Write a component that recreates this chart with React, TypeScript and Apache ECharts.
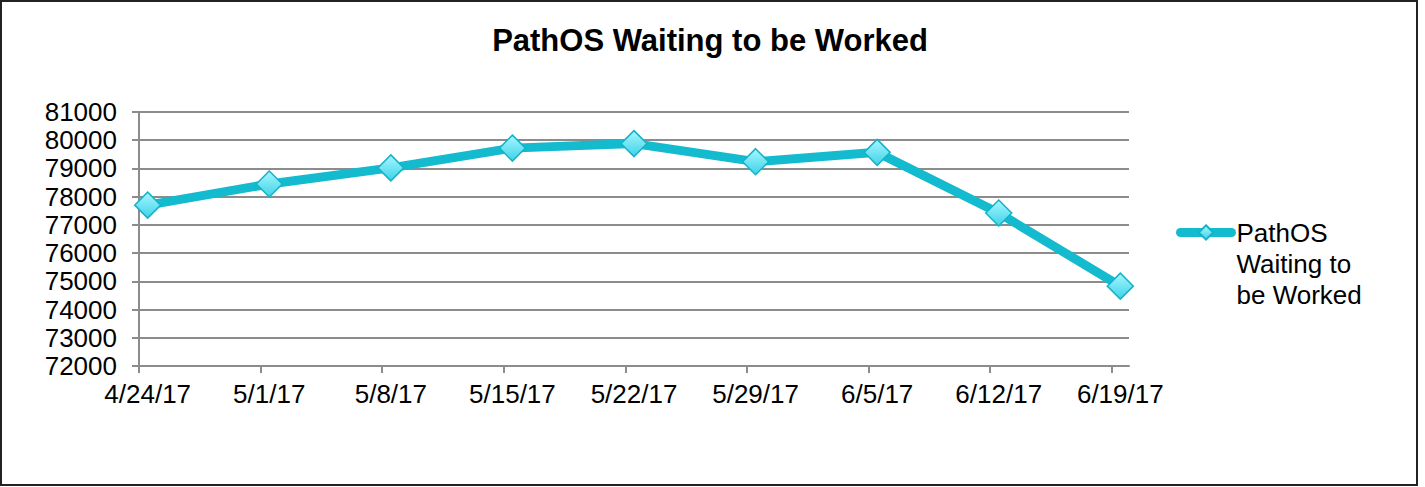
import React, { useEffect, useRef } from "react";
import * as echarts from "echarts";

const categories = ["4/24/17", "5/1/17", "5/8/17", "5/15/17", "5/22/17", "5/29/17", "6/5/17", "6/12/17", "6/19/17"];
// day offsets of each date from 4/24/17 (date axis)
const dayOffsets = [0, 7, 14, 21, 28, 35, 42, 49, 56];
const values = [77700, 78450, 79020, 79720, 79880, 79240, 79570, 77420, 74830];
const seriesName = "PathOS Waiting to be Worked";
const legendLines = ["PathOS", "Waiting to", "be Worked"];

const FONT = "'Liberation Sans', Arial, sans-serif";
const LINE = "#14BBCE";
const GRID = "#8C8C8C";

export default function App() {
  const ref = useRef<HTMLDivElement>(null);
  useEffect(() => {
    if (!ref.current) return;
    const chart = echarts.init(ref.current, undefined, { renderer: "svg" });
    chart.setOption({
      animation: false,
      backgroundColor: "#fff",
      title: {
        text: seriesName,
        left: "center",
        top: 20,
        textStyle: { fontFamily: FONT, fontSize: 31, fontWeight: "bold", color: "#000" },
      },
      graphic: [
        {
          type: "rect",
          shape: { x: 1, y: 1, width: 1416, height: 484 },
          style: { fill: "none", stroke: "#222", lineWidth: 2 },
          silent: true,
        },
      ],
      legend: {
        orient: "vertical",
        left: 1171,
        top: 150,
        itemWidth: 51,
        itemHeight: 18,
        formatter: () => "\n\n" + legendLines.join("\n"),
        lineStyle: { width: 9, cap: "round" },
        textStyle: {
          fontFamily: FONT,
          fontSize: 26,
          color: "#000",
          lineHeight: 31,
        },
      },
      grid: { left: 139, right: 291, top: 112, bottom: 121 },
      xAxis: {
        type: "value",
        min: 0,
        max: 57,
        axisLine: { show: true, lineStyle: { color: GRID, width: 2 } },
        axisTick: { show: true, length: 7, customValues: dayOffsets, lineStyle: { color: GRID, width: 2 } },
        axisLabel: {
          customValues: dayOffsets.map((d) => d + 0.5),
          formatter: (v: number) => {
            const i = dayOffsets.indexOf(Math.round(v - 0.5));
            return i >= 0 ? categories[i] : "";
          },
          fontFamily: FONT,
          fontSize: 26,
          color: "#000",
          margin: 15,
        },
        splitLine: { show: false },
      },
      yAxis: {
        type: "value",
        min: 72000,
        max: 81000,
        interval: 1000,
        axisLine: { show: true, lineStyle: { color: GRID, width: 2 } },
        axisTick: { show: true, length: 7, lineStyle: { color: GRID, width: 2 } },
        axisLabel: {
          fontFamily: FONT,
          fontSize: 26,
          color: "#000",
          margin: 22,
          formatter: (v: number) => String(v),
        },
        splitLine: { show: true, lineStyle: { color: GRID, width: 2 } },
      },
      series: [
        {
          name: seriesName,
          type: "line",
          data: values.map((v, i) => [dayOffsets[i] + 0.5, v]),
          symbol: "diamond",
          symbolSize: 26,
          lineStyle: { color: LINE, width: 9 },
          itemStyle: {
            color: new echarts.graphic.LinearGradient(0, 0, 0, 1, [
              { offset: 0, color: "#A8F6FF" },
              { offset: 1, color: "#3CD3E8" },
            ]),
            borderColor: "#16B2C6",
            borderWidth: 1.5,
          },
          z: 3,
        },
      ],
    });
    return () => chart.dispose();
  }, []);
  return (
    <div style={{ position: "absolute", left: 0, top: 0 }}>
      <div ref={ref} style={{ width: 1420, height: 487 }} />
    </div>
  );
}
